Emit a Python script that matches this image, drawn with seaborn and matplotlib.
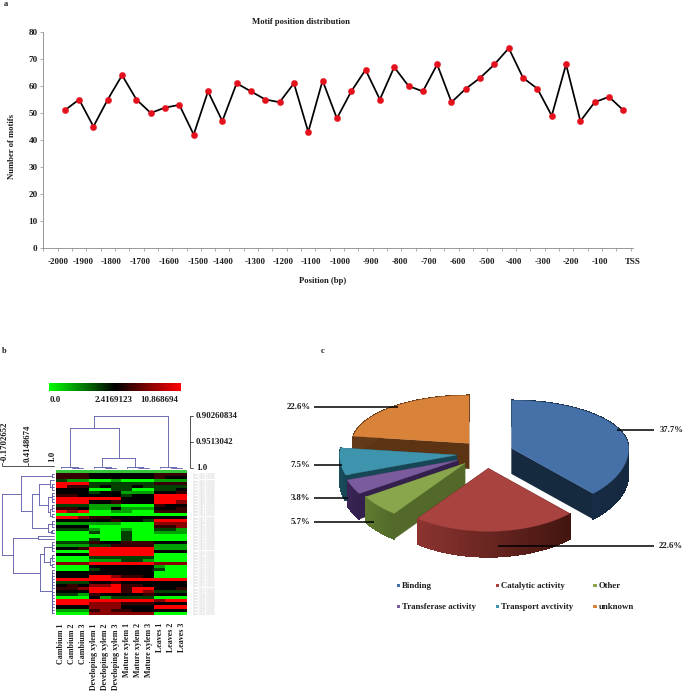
import numpy as np
import pandas as pd
import matplotlib
matplotlib.use("Agg")
import matplotlib.pyplot as plt
import seaborn as sns
from matplotlib.colors import LinearSegmentedColormap, TwoSlopeNorm
from matplotlib.collections import PolyCollection
from matplotlib.patches import Rectangle

# ---------- data ----------
motif_counts = [51,55,45,55,64,55,50,52,53,42,58,47,61,58,55,54,61,43,62,48,
                58,66,55,67,60,58,68,54,59,63,68,74,63,59,49,68,47,54,56,51]
position_labels = ["-2000","-1900","-1800","-1700","-1600","-1500","-1400","-1300",
                   "-1200","-1100","-1000","-900","-800","-700","-600","-500",
                   "-400","-300","-200","-100","TSS"]
y_ticks = [0,10,20,30,40,50,60,70,80]

sample_names = ["Cambium 1","Cambium 2","Cambium 3",
                "Developing xylem 1","Developing xylem 2","Developing xylem 3",
                "Mature xylem 1","Mature xylem 2","Mature xylem 3",
                "Leaves 1","Leaves 2","Leaves 3"]
# expression levels, by letter: bright green .. black .. bright red
levels = {"G":0.0,"g":0.9,"d":1.8,"K":2.4169,"r":4.2,"m":7.0,"R":10.8687}
heat_rows = ["rrrKKKKKKrrr","rrrKKKKKKrKK","dggGGgGGGggg","RRRddddddrrr","RrrdKddKdddd",
             "KKKGGddGGddK","KKKdKKgggKKr","rrKKKKdKKRRR","RRRRRRKKKRRR","RRRKKrKKKRRm",
             "dddgggGGGrKK","rrKggKgggKKr","RmRGGggGGrrr","GGGGGGGGGGGG","RRmrrKKKKKKK",
             "KKKKKrKKdRRR","ggggggGGGmmm","KKKGGGGGGrrm","dddgGGgGGddg","GGGdGGdGGggg",
             "GGGGGGdGGGGG","GGGdGGdGGGGG","dddrKKrrrKKK","gggddrrrrggg","KKrRRRRRRggg",
             "GGGRRRRRRKKK","KKKRRRRRRGGG","GGGddddddGGG","GGGgggddgGGG","mmmRRRRRRmmm",
             "GGGKKKKKKgGG","GGGdKKKKKdGG","KKKKKKKKKGGG","KKKRRmrrKGGG","RRRRRRRRRRRR",
             "dddKKrKKKKKK","KrKmmRrrKKKK","rrmRRRrRRKKr","KKKRRRrRmddd","ddgrKKKKrKKK",
             "GGGKgddddGGG","RRRRRRRRRmRR","RRRmmmrrrKKK","KKKmmmKKKRRR","gggrmrrKKKKK",
             "GGGmmmmmmGGG"]
row_names = [f"Gene_{i+1:04d}_000000" for i in range(len(heat_rows))]
cbar_labels = ["0.0","2.4169123","10.868694"]

# dendrograms: (similarity at the merge, child, child); a child is an index or a (first,last) range
column_tree = (0.9026,
               (0.925,
                (0.998,0,(0.999,1,2)),
                (0.981,(0.998,3,(0.999,4,5)),(0.998,6,(0.999,7,8)))),
               (0.998,9,(0.999,10,11)))
row_tree = (-0.17,
            (0.263,
             (0.95,0,1),
             (0.51,
              (0.66,(0.90,2,(3,5)),(0.85,(6,9),(0.90,(10,12),(13,14)))),
              (0.85,(15,17),(0.93,(18,19),(0.95,19,19))))),
            (0.075,
             (0.64,20,21),
             (0.68,
              (0.775,(22,25),(0.9,(26,28),(29,30))),
              (0.94,(31,37),(38,45)))))
column_scale = [1.0,0.9513042,0.90260834]
row_scale = [-0.1702652,0.4148674,1.0]

category_names = ["Binding","Catalytic activity","Other","Transferase activity",
                  "Transport avctivity","unknown"]
category_pct = [37.7,22.6,5.7,3.8,7.5,22.6]

# ---------- style ----------
sns.set_theme(style="white")
plt.rcParams["font.family"] = ["Liberation Serif","DejaVu Serif"]
plt.rcParams["font.weight"] = "bold"
TXT = "#1c1c1c"
W,H = 685,691
fig = plt.figure(figsize=(W/100,H/100),dpi=100,facecolor="white")

def axpx(l,t,r,b,**kw):
    return fig.add_axes([l/W,1-b/H,(r-l)/W,(b-t)/H],**kw)

canvas = axpx(0,0,W,H)
canvas.set_xlim(0,W); canvas.set_ylim(H,0); canvas.axis("off")
def T(x,y,s,fs=6.3,ha="center",va="center",**kw):
    canvas.text(x,y,s,fontsize=fs,ha=ha,va=va,color=kw.pop("color",TXT),fontweight="bold",**kw)

T(6,4,"a",fs=6); T(4,351,"b",fs=6); T(323,351,"c",fs=6)

# ---------- a: line chart ----------
ax = axpx(43.3,32,633,248)
idx = np.arange(len(motif_counts))
df = pd.DataFrame({"idx":idx,"n":motif_counts})
sns.lineplot(data=df,x="idx",y="n",ax=ax,color="black",lw=1.25,marker="o",ms=4.6,
             markerfacecolor="#e4101c",markeredgecolor="#e4101c",markeredgewidth=0.2)
ax.set_xlim(-1.5,39.5); ax.set_ylim(0,80)
ax.set_xticks(np.arange(-1.5,40,1),minor=True)
# the labels sit by hand, slightly unevenly, under the axis
label_px = [58,83,111,140,170,199,224,256,284,312,342,373,402,431,460,489,516,545,574,603,636]
lab_pos = [(p-64.7)/14.4 for p in label_px]
ax.set_xticks(lab_pos); ax.set_xticklabels(position_labels,fontsize=6.4,color=TXT)
ax.set_yticks(y_ticks); ax.set_yticklabels(y_ticks,fontsize=6.6,color=TXT)
ax.tick_params(axis="x",which="major",length=0,pad=7)
ax.tick_params(axis="x",which="minor",length=2,width=0.5,color="#8a8a8a",bottom=True)
ax.tick_params(axis="y",length=2,width=0.5,color="#8a8a8a",left=True,pad=2)
ax.set_xlabel(""); ax.set_ylabel("")
for s in ["top","right"]: ax.spines[s].set_visible(False)
for s in ["left","bottom"]:
    ax.spines[s].set_color("#8a8a8a"); ax.spines[s].set_linewidth(0.6)
T(301,22,"Motif position distribution",fs=6.2)
T(323,281,"Position (bp)",fs=6.2)
T(12,146,"Number of motifs",fs=6.2,rotation=90)

# ---------- b: heatmap ----------
cmap = LinearSegmentedColormap.from_list("gkr",["#00ff00","#000000","#ff0000"])
norm = TwoSlopeNorm(vmin=0,vcenter=2.4169123,vmax=10.868694)
heat = pd.DataFrame([[levels[c] for c in r] for r in heat_rows],
                    columns=sample_names,index=row_names)
hx = axpx(56,472.7,187,614.7)
sns.heatmap(heat,cmap=cmap,norm=norm,cbar=False,ax=hx,xticklabels=True,yticklabels=True)
hx.set_xticklabels(sample_names,rotation=90,fontsize=5.8,color=TXT,va="top")
hx.tick_params(axis="x",length=0,pad=6)
hx.yaxis.tick_right()
hx.set_yticklabels(row_names,rotation=0,fontsize=2.0,color="#c4c4c4",fontweight="normal")
hx.tick_params(axis="y",length=0,pad=4,right=False)
hx.set_xlabel(""); hx.set_ylabel("")
canvas.add_patch(Rectangle((56,469.5),131,3.2,color="#35c43a",lw=0))

DC = "#5656a6"
def walk(node,draw):
    """returns leaf-axis position, similarity"""
    if isinstance(node,int):
        return node+0.5,1.0
    if len(node)==2:                 # a range of leaves collapsed into a small ladder
        a,b = node
        if a==b: return a+0.5,1.0
        m = (a+b)//2
        h = 0.955
        return join(h,(a,m) if m>a else a,(m+1,b) if b>m+1 else b,draw)
    return join(node[0],node[1],node[2],draw)
def join(h,c1,c2,draw):
    p1,h1 = walk(c1,draw); p2,h2 = walk(c2,draw)
    draw(p1,h1,h); draw(p2,h2,h); draw(p1,h,h,p2)
    return (p1+p2)/2,h

tx = axpx(56,416,187,468.3); tx.axis("off")
tx.set_xlim(0,12); tx.set_ylim(1.0,0.90260834)
def draw_col(p,h0,h1,p2=None):
    if p2 is None: tx.plot([p,p],[h0,h1],color=DC,lw=0.6,clip_on=False)
    else: tx.plot([p,p2],[h0,h1],color=DC,lw=0.6,clip_on=False)
walk(column_tree,draw_col)

lx = axpx(1.7,472.7,54.3,614.7); lx.axis("off")
lx.set_xlim(row_scale[0],row_scale[2]); lx.set_ylim(46,0)
def draw_row(p,h0,h1,p2=None):
    if p2 is None: lx.plot([h0,h1],[p,p],color=DC,lw=0.6,clip_on=False)
    else: lx.plot([h0,h1],[p,p2],color=DC,lw=0.6,clip_on=False)
walk(row_tree,draw_row)

# colour key
cx = axpx(49.3,382.7,180.7,390.7); cx.axis("off")
cx.imshow(np.linspace(0,1,256)[None,:],aspect="auto",cmap=cmap)
T(49.5,399.5,cbar_labels[0],fs=6.5,ha="left")
T(113.5,399.5,cbar_labels[1],fs=6.5)
T(159.5,399.5,cbar_labels[2],fs=6.5)

# similarity scales
sy = axpx(190,416,200,468.3); sy.axis("off")
sy.set_xlim(0,10); sy.set_ylim(1.0,0.90260834)
sy.plot([0,0],[1.0,0.90260834],color="#333",lw=0.6)
for v,s in zip(column_scale,["1.0","0.9513042","0.90260834"]):
    sy.plot([0,3],[v,v],color="#333",lw=0.6,clip_on=False)
    sy.text(5.8,v,s,fontsize=6.3,va="center",ha="left",color=TXT,fontweight="bold",clip_on=False)
sx = axpx(1.7,455,54.3,466); sx.axis("off")
sx.set_xlim(row_scale[0],row_scale[2]); sx.set_ylim(0,10)
sx.plot([row_scale[0],row_scale[2]],[0,0],color="#333",lw=0.6,clip_on=False)
for v,s,off in zip(row_scale,["-0.1702652","0.4148674","1.0"],[0.067,0.0,-0.045]):
    sx.plot([v,v],[0,3],color="#333",lw=0.6)
    sx.text(v+off,3.2,s,fontsize=6.3,rotation=90,ha="center",va="bottom",color=TXT,
            fontweight="bold",clip_on=False)

# ---------- c: exploded 3-D pie ----------
top_cols  = ["#4671a8","#a84340","#8aa64c","#7a5b9c","#3f94ad","#d9823a"]
wall_cols = [("#1a3352","#15293f"),("#8c3431","#43150f"),("#5f7a30","#52692a"),
             ("#3a2457","#33204c"),("#1a4d5c","#174655"),("#653a18","#5c3414")]
apex_off = [(38.3,-5),(15,15),(-8.3,10),(-15,6.7),(-16.7,1.7),(-4.3,-10)]
cx0,cy0 = 270+610/3,340+340/3
rx,ry,ry_front,depth = 117,48,63,25.5
def outer(theta):
    t = np.radians(theta)
    b = ry if np.cos(t)>0 else ry_front
    return rx*np.sin(t),-b*np.cos(t)
edges = np.cumsum([0]+category_pct)/100*360
edges = edges/edges[-1]*360
draw_order = [5,4,3,2,0,1]
for i in draw_order:
    a0,a1 = edges[i],edges[i+1]
    ap = np.array([cx0+apex_off[i][0],cy0+apex_off[i][1]])
    th = np.linspace(a0,a1,60)
    arc = np.array([ap+outer(t) for t in th])
    shift = np.array([0,depth])
    c0 = np.array(matplotlib.colors.to_rgb(wall_cols[i][0]))
    c1 = np.array(matplotlib.colors.to_rgb(wall_cols[i][1]))
    # radial cut faces
    for p in (arc[0],arc[-1]):
        canvas.add_patch(plt.Polygon([ap,p,p+shift,ap+shift],fc=wall_cols[i][1],ec=wall_cols[i][1],lw=0.2))
    quads,cols = [],[]
    for k in range(len(arc)-1):
        quads.append([arc[k],arc[k+1],arc[k+1]+shift,arc[k]+shift])
        f = (arc[k][0]-arc[:,0].min())/max(np.ptp(arc[:,0]),1)
        cols.append(c0+(c1-c0)*f)
    canvas.add_collection(PolyCollection(quads,facecolors=cols,edgecolors=cols,
                                         linewidths=0.5,antialiaseds=False))
    canvas.add_patch(plt.Polygon(np.vstack([ap,arc]),fc=top_cols[i],ec=top_cols[i],lw=0.2))

def zx(v): return 270+v/3
def zy(v): return 340+v/3
leaders = [(1040,1152,270),(685,1152,618),(133,313,545),(133,235,474),(133,215,375),(133,385,200)]
for x0,x1,y in leaders:
    canvas.plot([zx(x0),zx(x1)],[zy(y),zy(y)],color="black",lw=1.1,solid_capstyle="butt")
pct_pos = [(1168,270,"left"),(1165,618,"left"),(122,546,"right"),(122,474,"right"),
           (122,376,"right"),(122,201,"right")]
for (x,y,ha),v in zip(pct_pos,category_pct):
    T(zx(x),zy(y),f"{v}%",fs=6.3,ha=ha)
legend_pos = [(381,737),(678,737),(970,737),(381,800),(678,800),(970,800)]
for (x,y),name,c in zip(legend_pos,category_names,top_cols):
    canvas.add_patch(Rectangle((zx(x),zy(y)-1.7),3.4,3.4,color=c,lw=0))
    T(zx(x)+5.3,zy(y),name,fs=6.3,ha="left")

fig.savefig("out.png",dpi=100)
